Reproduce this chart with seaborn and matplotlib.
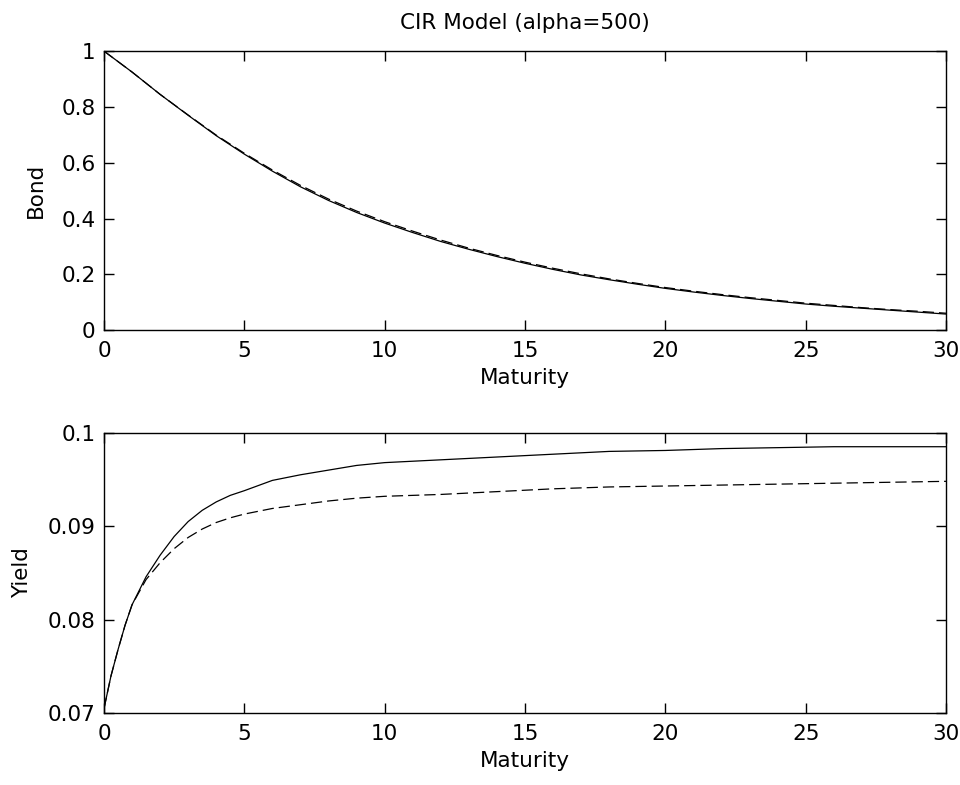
import numpy as np
import pandas as pd
import matplotlib
matplotlib.use('Agg')
import matplotlib.pyplot as plt
import seaborn as sns

# bond prices (yearly)
bond_maturity = list(range(0, 31))
bond_solid = [1.000, 0.925, 0.845, 0.770, 0.697, 0.631, 0.570, 0.514, 0.465, 0.422,
              0.384, 0.350, 0.318, 0.290, 0.264, 0.240, 0.218, 0.198, 0.181, 0.165,
              0.150, 0.137, 0.125, 0.114, 0.104, 0.094, 0.086, 0.079, 0.072, 0.065, 0.058]
bond_dashed = [1.000, 0.925, 0.845, 0.771, 0.699, 0.634, 0.574, 0.519, 0.470, 0.427,
               0.389, 0.355, 0.323, 0.294, 0.268, 0.244, 0.222, 0.202, 0.184, 0.168,
               0.153, 0.140, 0.128, 0.117, 0.107, 0.097, 0.089, 0.081, 0.074, 0.068, 0.061]

# yields
yield_maturity = [0, 0.25, 0.5, 0.75, 1, 1.5, 2, 2.5, 3, 3.5, 4, 4.5, 5, 6, 7, 8, 9, 10,
                  12, 14, 16, 18, 20, 22, 24, 26, 28, 30]
yield_solid = [0.0705, 0.0740, 0.0768, 0.0794, 0.0816, 0.0846, 0.0869, 0.0889, 0.0905,
               0.0917, 0.0926, 0.0933, 0.0938, 0.0949, 0.0955, 0.0960, 0.0965, 0.0968,
               0.0971, 0.0974, 0.0977, 0.0980, 0.0981, 0.0983, 0.0984, 0.0985, 0.0985, 0.0985]
yield_dashed = [0.0705, 0.0740, 0.0768, 0.0794, 0.0816, 0.0843, 0.0861, 0.0876, 0.0888,
                0.0897, 0.0904, 0.0909, 0.0913, 0.0919, 0.0923, 0.0927, 0.0930, 0.0932,
                0.0934, 0.0937, 0.0940, 0.0942, 0.0943, 0.0944, 0.0945, 0.0946, 0.0947, 0.0948]

bond_df = pd.DataFrame({
    'Maturity': bond_maturity * 2,
    'Bond': bond_solid + bond_dashed,
    'kind': ['solid'] * len(bond_solid) + ['dashed'] * len(bond_dashed),
})
yield_df = pd.DataFrame({
    'Maturity': yield_maturity * 2,
    'Yield': yield_solid + yield_dashed,
    'kind': ['solid'] * len(yield_solid) + ['dashed'] * len(yield_dashed),
})

sns.set_style('white')
plt.rcParams['font.family'] = ['DejaVu Sans']
plt.rcParams['font.size'] = 15.5
plt.rcParams['text.color'] = 'black'
plt.rcParams['axes.labelcolor'] = 'black'

fig = plt.figure(figsize=(9.6, 7.85), dpi=100)
ax1 = fig.add_axes([0.1083, 0.5793, 0.8771, 0.3556])
ax2 = fig.add_axes([0.1083, 0.0913, 0.8771, 0.3575])

dash_map = {'solid': '', 'dashed': (9, 4)}

sns.lineplot(data=bond_df, x='Maturity', y='Bond', style='kind', dashes=dash_map,
             color='black', linewidth=0.9, legend=False, ax=ax1)
sns.lineplot(data=yield_df, x='Maturity', y='Yield', style='kind', dashes=dash_map,
             color='black', linewidth=0.9, legend=False, ax=ax2)

ax1.set_xlim(0, 30)
ax1.set_ylim(0, 1)
ax1.set_xticks([0, 5, 10, 15, 20, 25, 30])
ax1.set_yticks([0, 0.2, 0.4, 0.6, 0.8, 1])
ax1.set_yticklabels(['0', '0.2', '0.4', '0.6', '0.8', '1'])
ax1.set_title('CIR Model (alpha=500)', fontsize=15.5, pad=16, color='black')

ax2.set_xlim(0, 30)
ax2.set_ylim(0.07, 0.1)
ax2.set_xticks([0, 5, 10, 15, 20, 25, 30])
ax2.set_yticks([0.07, 0.08, 0.09, 0.1])
ax2.set_yticklabels(['0.07', '0.08', '0.09', '0.1'])

for ax in (ax1, ax2):
    ax.set_xlabel('Maturity', fontsize=15.5, labelpad=5, color='black')
    ax.set_ylabel(ax.get_ylabel(), fontsize=15.5, labelpad=11, color='black')
    for s in ax.spines.values():
        s.set_visible(True)
        s.set_color('black')
        s.set_linewidth(1.0)
    ax.tick_params(direction='in', length=7, width=1.0, top=True, right=True,
                   bottom=True, left=True, labelsize=15.5, colors='black')
    ax.tick_params(axis='x', pad=8)
    ax.tick_params(axis='y', pad=6)

fig.savefig('out.png', dpi=100, facecolor='white')
